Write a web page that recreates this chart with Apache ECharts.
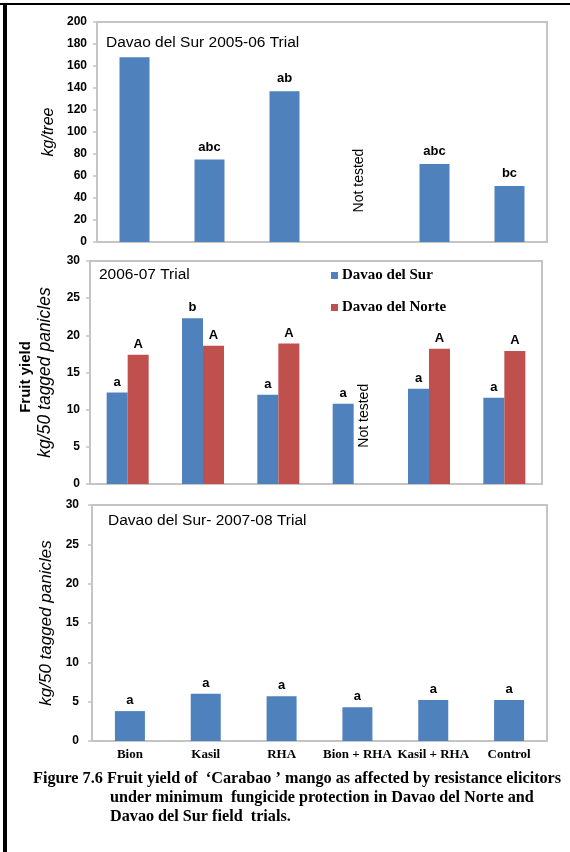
<!DOCTYPE html>
<html>
<head>
<meta charset="utf-8">
<script src="https://cdn.jsdelivr.net/npm/echarts@6/dist/echarts.min.js"></script>
<style>
html,body{margin:0;padding:0;background:#fff;}
#chart{width:570px;height:852px;}
</style>
</head>
<body>
<div id="chart"></div>
<script>
// ---- data ----
const categories = ['Bion', 'Kasil', 'RHA', 'Bion + RHA', 'Kasil + RHA', 'Control'];
const yield0506 = [168, 75, 137, null, 71, 51];
const sig0506 = ['a', 'abc', 'ab', '', 'abc', 'bc'];
const sur0607 = [12.3, 22.3, 12.0, 10.8, 12.8, 11.6];
const sigSur0607 = ['a', 'b', 'a', 'a', 'a', 'a'];
const norte0607 = [17.4, 18.6, 18.9, null, 18.2, 17.9];
const sigNorte0607 = ['A', 'A', 'A', '', 'A', 'A'];
const sur0708 = [3.8, 6.0, 5.7, 4.3, 5.2, 5.2];
const sig0708 = ['a', 'a', 'a', 'a', 'a', 'a'];
const yRange0506 = [0, 200, 20];
const yRange0607 = [0, 30, 5];
const yRange0708 = [0, 30, 5];
const panelTitles = ['Davao del Sur 2005-06 Trial', '2006-07 Trial', 'Davao del Sur- 2007-08 Trial'];
const seriesNames = ['Davao del Sur', 'Davao del Norte'];
const notTested = 'Not tested';
const captionLines = [
  'Figure 7.6 Fruit yield of  \u2018Carabao \u2019 mango as affected by resistance elicitors',
  'under minimum  fungicide protection in Davao del Norte and',
  'Davao del Sur field  trials.'
];

const BLUE = '#4F81BD', RED = '#C0504D', GRID = '#C4C4C4';
const SANS = 'Liberation Sans, Arial, sans-serif';
const SERIF = 'Liberation Serif, Times New Roman, serif';

const chart = echarts.init(document.getElementById('chart'), null, {renderer: 'canvas'});

function gridDef(left, top, width, height) {
  return {left, top, width, height, show: true, borderColor: GRID, borderWidth: 2, backgroundColor: 'transparent', containLabel: false};
}
function xAxisDef(gi, showLabels) {
  return {
    type: 'category', gridIndex: gi, data: categories,
    axisLine: {show: true, lineStyle: {color: GRID, width: 2}},
    axisTick: {show: false},
    axisLabel: {show: showLabels, margin: 7, color: '#000', fontFamily: SERIF, fontWeight: 'bold', fontSize: 13, interval: 0},
    splitLine: {show: false}
  };
}
function yAxisDef(gi, r, name, nameGap, margin, nameSize) {
  return {
    type: 'value', gridIndex: gi, min: r[0], max: r[1], interval: r[2],
    name, nameLocation: 'middle', nameGap,
    nameTextStyle: {fontFamily: SANS, fontStyle: 'italic', fontSize: nameSize, color: '#000'},
    axisLine: {show: true, lineStyle: {color: GRID, width: 2}},
    axisTick: {show: true, length: 4, lineStyle: {color: GRID, width: 1.5}},
    axisLabel: {margin, color: '#000', fontFamily: SANS, fontWeight: 'bold', fontSize: 12},
    splitLine: {show: false}
  };
}
function letterLabel(arr, distance) {
  return {show: true, position: 'top', distance, color: '#000', fontFamily: SANS, fontWeight: 'bold', fontSize: 13,
          formatter: p => arr[p.dataIndex]};
}
function notTestedMark(value, offsetX) {
  return {
    silent: true, symbol: 'circle', symbolSize: 0,
    data: [{coord: ['Bion + RHA', value]}],
    label: {show: true, position: 'inside', formatter: notTested, rotate: 90, offset: [offsetX, 0],
            color: '#000', fontFamily: SANS, fontSize: 14}
  };
}

const option = {
  animation: false,
  backgroundColor: '#fff',
  grid: [gridDef(97, 22, 450, 220), gridDef(90, 261, 452, 223), gridDef(92, 505, 455, 236)],
  xAxis: [xAxisDef(0, false), xAxisDef(1, false), xAxisDef(2, true)],
  yAxis: [
    yAxisDef(0, yRange0506, 'kg/tree', 38, 10, 16),
    yAxisDef(1, yRange0607, 'kg/50 tagged panicles', 36, 10, 17.5),
    yAxisDef(2, yRange0708, 'kg/50 tagged panicles', 33, 13, 17)
  ],
  title: [
    {text: panelTitles[0], left: 106, top: 35, padding: 0, backgroundColor: '#fff',
     textStyle: {fontFamily: SANS, fontWeight: 'normal', fontSize: 15.5, color: '#000'}},
    {text: panelTitles[1], left: 99, top: 267, padding: 0,
     textStyle: {fontFamily: SANS, fontWeight: 'normal', fontSize: 15.5, color: '#000'}},
    {text: panelTitles[2], left: 108, top: 513, padding: 0,
     textStyle: {fontFamily: SANS, fontWeight: 'normal', fontSize: 15.5, color: '#000'}}
  ],
  legend: {
    data: seriesNames, orient: 'vertical', left: 331, top: 268,
    icon: 'rect', itemWidth: 7, itemHeight: 7, itemGap: 17, padding: 0,
    selectedMode: false,
    textStyle: {fontFamily: SERIF, fontWeight: 'bold', fontSize: 15, color: '#000', padding: [0, 0, 0, -1]}
  },
  series: [
    {name: 'Davao del Sur 2005-06', type: 'bar', xAxisIndex: 0, yAxisIndex: 0, data: yield0506,
     barWidth: 30, itemStyle: {color: BLUE}, label: letterLabel(sig0506, 6),
     markPoint: notTestedMark(55, 1)},
    {name: seriesNames[0], type: 'bar', xAxisIndex: 1, yAxisIndex: 1, data: sur0607,
     barWidth: 21, barGap: '0%', itemStyle: {color: BLUE}, label: letterLabel(sigSur0607, 4)},
    {name: seriesNames[1], type: 'bar', xAxisIndex: 1, yAxisIndex: 1, data: norte0607,
     barWidth: 21, barGap: '0%', itemStyle: {color: RED}, label: letterLabel(sigNorte0607, 4),
     markPoint: notTestedMark(7.3, 14)},
    {name: 'Davao del Sur 2007-08', type: 'bar', xAxisIndex: 2, yAxisIndex: 2, data: sur0708,
     barWidth: 30, itemStyle: {color: BLUE}, label: letterLabel(sig0708, 4)}
  ],
  graphic: [
    {type: 'rect', shape: {x: 0, y: 3, width: 570, height: 2}, style: {fill: '#000'}, silent: true},
    {type: 'rect', shape: {x: 3, y: 3, width: 4, height: 849}, style: {fill: '#000'}, silent: true},
    {type: 'text', x: 26, y: 377, rotation: Math.PI / 2,
     style: {text: 'Fruit yield', fill: '#000', font: 'bold 15px ' + SANS, align: 'center', verticalAlign: 'middle'}},
    {type: 'text', x: 33, y: 779,
     style: {text: captionLines[0], fill: '#000', font: 'bold 16.2px ' + SERIF, align: 'left', verticalAlign: 'middle'}},
    {type: 'text', x: 110, y: 798,
     style: {text: captionLines[1], fill: '#000', font: 'bold 16.2px ' + SERIF, align: 'left', verticalAlign: 'middle'}},
    {type: 'text', x: 110, y: 817,
     style: {text: captionLines[2], fill: '#000', font: 'bold 16.2px ' + SERIF, align: 'left', verticalAlign: 'middle'}}
  ]
};
chart.setOption(option);
</script>
</body>
</html>
